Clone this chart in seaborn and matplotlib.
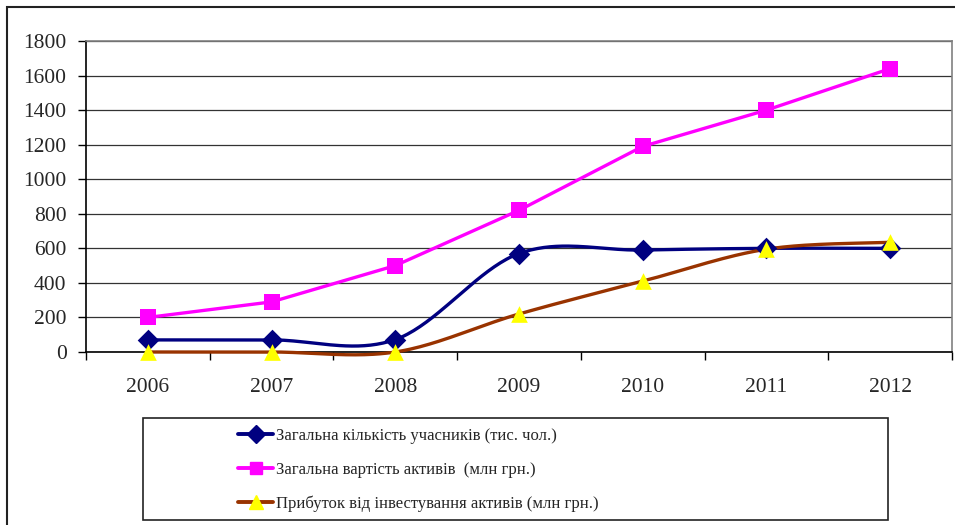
import numpy as np
import pandas as pd
import matplotlib
matplotlib.use("Agg")
import matplotlib.pyplot as plt
import seaborn as sns
from matplotlib.lines import Line2D
from matplotlib.patches import Rectangle

years = ["2006", "2007", "2008", "2009", "2010", "2011", "2012"]
participants = [70, 70, 72, 570, 590, 600, 600]
assets = [200, 290, 500, 820, 1190, 1400, 1640]
profit = [0, 0, 0, 220, 410, 595, 635]
labels = [
    "Загальна кількість учасників (тис. чол.)",
    "Загальна вартість активів  (млн грн.)",
    "Прибуток від інвестування активів (млн грн.)",
]
yticks = [0, 200, 400, 600, 800, 1000, 1200, 1400, 1600, 1800]

colors = ["#000080", "#FF00FF", "#993300"]


def smooth(xs, ys, n=40):
    xs = np.asarray(xs, float)
    ys = np.asarray(ys, float)
    px = np.concatenate([[xs[0]], xs, [xs[-1]]])
    py = np.concatenate([[ys[0]], ys, [ys[-1]]])
    ox, oy = [], []
    for i in range(len(xs) - 1):
        p0 = np.array([px[i + 1], py[i + 1]])
        p3 = np.array([px[i + 2], py[i + 2]])
        p1 = p0 + (np.array([px[i + 2], py[i + 2]]) - np.array([px[i], py[i]])) / 6
        p2 = p3 - (np.array([px[i + 3], py[i + 3]]) - np.array([px[i + 1], py[i + 1]])) / 6
        t = np.linspace(0, 1, n, endpoint=(i == len(xs) - 2))[:, None]
        pts = (1 - t) ** 3 * p0 + 3 * (1 - t) ** 2 * t * p1 + 3 * (1 - t) * t ** 2 * p2 + t ** 3 * p3
        ox.extend(pts[:, 0]); oy.extend(pts[:, 1])
    return np.array(ox), np.array(oy)


sns.set_theme(style="white")
plt.rcParams["font.family"] = ["Liberation Serif", "DejaVu Serif"]

fig = plt.figure(figsize=(9.55, 5.25), dpi=100)
ax = fig.add_axes([86 / 955, 1 - 352 / 525, (952 - 86) / 955, (352 - 41) / 525])

x = np.arange(len(years))
series = [participants, assets, profit]
markers = ["D", "s", "^"]
msizes = [11, 11.5, 12]
mfc = ["#000080", "#FF00FF", "#FFFF00"]

for i, vals in enumerate(series):
    if i == 1:
        sx, sy = x.astype(float), np.asarray(vals, float)
    else:
        sx, sy = smooth(x, vals)
    df = pd.DataFrame({"x": sx, "y": sy})
    sns.lineplot(data=df, x="x", y="y", ax=ax, color=colors[i], lw=2.4,
                 sort=False, estimator=None, zorder=3, clip_on=False)
for i, vals in enumerate(series):
    df = pd.DataFrame({"x": x, "y": vals})
    sns.scatterplot(data=df, x="x", y="y", ax=ax, marker=markers[i],
                    s=msizes[i] ** 2, color=mfc[i], edgecolor=mfc[i],
                    linewidth=0, zorder=4, clip_on=False)

ax.set_xlim(-0.5, 6.5)
ax.set_ylim(0, 1800)
ax.set_yticks(yticks)
ax.set_yticklabels([str(v) for v in yticks])
ax.set_xticks(x)
ax.set_xticklabels(years)
ax.set_xticks(np.arange(-0.5, 7, 1), minor=True)
ax.set_xlabel("")
ax.set_ylabel("")
ax.grid(axis="y", color="#333333", lw=0.9)
ax.set_axisbelow(True)
ax.tick_params(axis="y", which="major", direction="out", length=6, width=1,
               color="black", labelsize=15.5, pad=8, left=True)
ax.tick_params(axis="x", which="major", length=0, labelsize=15.5, pad=19)
ax.tick_params(axis="x", which="minor", direction="out", length=6, width=1,
               color="black", bottom=True)
for s in ["left", "bottom"]:
    ax.spines[s].set_color("black")
    ax.spines[s].set_linewidth(1.2)
for s in ["top", "right"]:
    ax.spines[s].set_color("#808080")
    ax.spines[s].set_linewidth(1.2)

# outer border
fig.patches.append(Rectangle((7 / 955, -0.05), 1.2, 1 - 7 / 525 + 0.05,
                             transform=fig.transFigure, fill=False,
                             edgecolor="#222222", lw=1.5))
# legend box
fig.patches.append(Rectangle((143 / 955, 1 - 520 / 525), 745 / 955, 102 / 525,
                             transform=fig.transFigure, fill=False,
                             edgecolor="#222222", lw=1.2))

handles = [Line2D([], [], color=colors[i], lw=2.8, marker=markers[i],
                  markersize=msizes[i] * 0.8, markerfacecolor=mfc[i],
                  markeredgecolor=mfc[i]) for i in range(3)]
fig.legend(handles, labels, loc="upper left",
           bbox_to_anchor=(238 / 955, 1 - 428 / 525),
           bbox_transform=fig.transFigure, frameon=False, borderpad=0,
           borderaxespad=0, fontsize=12, handlelength=2.1,
           handletextpad=0.2, labelspacing=1.05)

fig.savefig("out.png", dpi=100)
